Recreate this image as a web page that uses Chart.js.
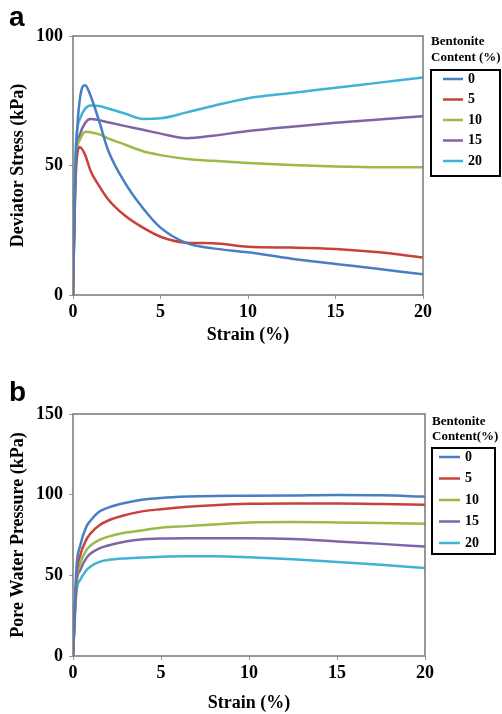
<!DOCTYPE html>
<html>
<head>
<meta charset="utf-8">
<script src="https://cdn.jsdelivr.net/npm/chart.js@4"></script>
<style>
  body { margin: 0; background: #fff; width: 502px; height: 714px; position: relative; overflow: hidden; }
  .panel { position: absolute; left: 0; width: 502px; }
  .tag { position: absolute; left: 9px; font: bold 28px "Liberation Sans", Arial, sans-serif; line-height: 32px; }
</style>
</head>
<body>
<div class="panel" style="top:0;height:350px"><canvas id="chartA"></canvas></div>
<div class="panel" style="top:370px;height:344px"><canvas id="chartB"></canvas></div>
<div class="tag" style="top:1px">a</div>
<div class="tag" style="top:376px">b</div>
<script>
// bentonite content labels and colours
const contents = ['0', '5', '10', '15', '20'];
const colors = ['#4a7ec4', '#c8413c', '#9bbb48', '#8064a8', '#3fb3d3'];

// (a) deviator stress vs strain
const strainA = [0, 0.15, 0.4, 0.7, 1, 1.5, 2, 3, 4, 5, 6.5, 8, 10, 12.5, 15, 17.5, 20];
const stress0 = [0, 50, 76, 81, 77, 67, 56, 43, 33.5, 26, 20, 18, 16.5, 14, 12, 10, 8];
const stress5 = [0, 45, 57, 54, 48, 42, 37, 30.5, 26, 22.5, 20.2, 20, 18.6, 18.3, 17.8, 16.5, 14.5];
const stress10 = [0, 50, 60, 63, 62.8, 62, 60.5, 58, 55.5, 54, 52.5, 51.8, 51, 50.2, 49.6, 49.3, 49.3];
const stress15 = [0, 50, 62, 66.5, 68, 67.5, 66.7, 65.2, 63.8, 62.3, 60.5, 61.5, 63.3, 65, 66.5, 67.8, 69];
const stress20 = [0, 56, 68, 72, 73.2, 73, 72, 70, 68, 68.2, 70.5, 73, 76, 78, 80, 82, 84];

// (b) pore water pressure vs strain
const strainB = [0, 0.2, 0.4, 0.75, 1, 1.5, 2, 3, 4, 5, 6.5, 8, 10, 12.5, 15, 17.5, 20];
const pwp0 = [0, 55, 68, 80, 84, 89.5, 92, 95, 97, 98, 98.8, 99.2, 99.3, 99.5, 99.8, 99.6, 98.8];
const pwp5 = [0, 50, 62, 72, 76, 81, 84, 87.5, 89.8, 91, 92.5, 93.5, 94.3, 94.5, 94.5, 94.2, 93.7];
const pwp10 = [0, 47, 57, 65.5, 68.5, 72, 74, 76.5, 78, 79.5, 80.5, 81.5, 82.8, 83, 82.8, 82.5, 82];
const pwp15 = [0, 45, 53, 60.5, 63.5, 66.7, 68.5, 71, 72.3, 72.8, 73, 73, 73, 72.5, 71, 69.5, 67.8];
const pwp20 = [0, 40, 47, 53, 55.5, 58.3, 59.5, 60.5, 61, 61.5, 61.8, 61.8, 61.2, 60, 58.3, 56.5, 54.5];

const serif = '"Liberation Serif", "Times New Roman", serif';

function makeSets(xs, series) {
  return series.map((ys, i) => ({
    label: contents[i],
    data: xs.map((x, j) => ({ x: x, y: ys[j] })),
    borderColor: colors[i],
    borderWidth: 2.5,
    pointRadius: 0,
    cubicInterpolationMode: 'monotone',
    fill: false
  }));
}

// grey frame round the plot area
const frame = {
  id: 'frame',
  afterDatasetsDraw(chart) {
    const a = chart.chartArea, ctx = chart.ctx;
    ctx.save();
    ctx.strokeStyle = '#777';
    ctx.lineWidth = 1.5;
    ctx.strokeRect(a.left, a.top, a.right - a.left, a.bottom - a.top);
    ctx.restore();
  }
};

// boxed legend with a two line title beside the plot
const boxLegend = {
  id: 'boxLegend',
  afterDraw(chart, args, o) {
    const ctx = chart.ctx;
    ctx.save();
    ctx.textBaseline = 'middle';
    ctx.textAlign = 'left';
    ctx.fillStyle = '#000';
    ctx.font = 'bold 13px ' + serif;
    o.title.forEach((t, i) => ctx.fillText(t, o.x, o.titleY + i * o.titleGap));
    ctx.strokeStyle = '#000';
    ctx.lineWidth = 2;
    ctx.strokeRect(o.x, o.y, o.w, o.h);
    ctx.font = 'bold 14px ' + serif;
    chart.data.datasets.forEach((ds, i) => {
      const y = o.y + o.first + i * o.row;
      ctx.strokeStyle = ds.borderColor;
      ctx.lineWidth = 2.5;
      ctx.beginPath();
      ctx.moveTo(o.lineX, y);
      ctx.lineTo(o.lineX + o.lineW, y);
      ctx.stroke();
      ctx.fillText(ds.label, o.lineX + o.lineW + 5, y);
    });
    ctx.restore();
  }
};

function makeChart(id, sets, yMax, yTitle, pad, xHeight, xTitlePad, legend) {
  return new Chart(document.getElementById(id), {
    type: 'line',
    data: { datasets: sets },
    plugins: [frame, boxLegend],
    options: {
      responsive: true,
      maintainAspectRatio: false,
      animation: false,
      layout: { padding: pad },
      plugins: {
        legend: { display: false },
        tooltip: { enabled: false },
        boxLegend: legend
      },
      scales: {
        x: {
          type: 'linear',
          min: 0, max: 20,
          ticks: { stepSize: 5, color: '#000', padding: 3, font: { family: serif, size: 18, weight: 'bold' } },
          grid: { drawOnChartArea: false, tickLength: 4, color: '#999' },
          border: { display: false },
          title: { display: true, text: 'Strain (%)', color: '#000', padding: { top: 4, bottom: xTitlePad },
                   font: { family: serif, size: 18, weight: 'bold' } },
          afterFit(s) { s.height = xHeight; }
        },
        y: {
          min: 0, max: yMax,
          ticks: { stepSize: 50, color: '#000', padding: 6, font: { family: serif, size: 18, weight: 'bold' } },
          grid: { drawOnChartArea: false, tickLength: 4, color: '#999' },
          border: { display: false },
          title: { display: true, text: yTitle, color: '#000', font: { family: serif, size: 18, weight: 'bold' } },
          afterFit(s) { s.width = 69; }
        }
      }
    }
  });
}

makeChart('chartA',
  makeSets(strainA, [stress0, stress5, stress10, stress15, stress20]),
  100, 'Deviator Stress (kPa)',
  { top: 36, right: 79, left: 4, bottom: 0 }, 55, 4,
  { x: 431, y: 70, w: 69, h: 106, title: ['Bentonite', 'Content (%)'], titleY: 42, titleGap: 16,
    first: 9, row: 20.5, lineX: 443, lineW: 20 });

makeChart('chartB',
  makeSets(strainB, [pwp0, pwp5, pwp10, pwp15, pwp20]),
  150, 'Pore Water Pressure (kPa)',
  { top: 44, right: 77, left: 4, bottom: 0 }, 58, 0,
  { x: 432, y: 78, w: 63, h: 106, title: ['Bentonite', 'Content(%)'], titleY: 52, titleGap: 15,
    first: 9, row: 21.5, lineX: 439, lineW: 21 });
</script>
</body>
</html>
